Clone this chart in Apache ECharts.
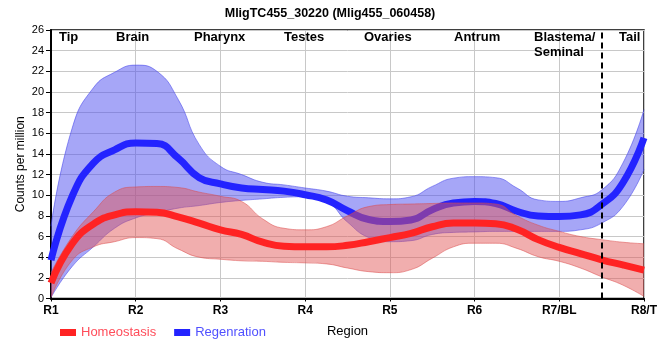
<!DOCTYPE html>
<html>
<head>
<meta charset="utf-8">
<script src="https://cdn.jsdelivr.net/npm/echarts@6/dist/echarts.min.js"></script>
<style>
html,body{margin:0;padding:0;background:#fff;}
#chart{width:660px;height:360px;}
</style>
</head>
<body>
<div id="chart"></div>
<script>
// ---- data ----
var titleText = 'MligTC455_30220 (Mlig455_060458)';
var xTickLabels = ['R1', 'R2', 'R3', 'R4', 'R5', 'R6', 'R7/BL', 'R8/T'];
var regionNames = ['Tip', 'Brain', 'Pharynx', 'Testes', 'Ovaries', 'Antrum', 'Blastema/', 'Seminal', 'Tail'];
var dashedX = 7.5;
var xValues = [1, 1.25, 1.5, 1.75, 2, 2.25, 2.5, 2.75, 3, 3.25, 3.5, 3.75, 4, 4.25, 4.5, 4.75,
               5, 5.25, 5.5, 5.75, 6, 6.25, 6.5, 6.75, 7, 7.25, 7.5, 7.75, 8];
var homeoMean  = [1.5, 5.3, 7.2, 8.1, 8.4, 8.35, 7.9, 7.3, 6.65, 6.2, 5.45, 5.05, 5.0, 5.0, 5.15, 5.5,
                  5.9, 6.3, 6.95, 7.3, 7.3, 7.25, 6.7, 5.7, 4.95, 4.35, 3.75, 3.25, 2.75];
var homeoUpper = [2.5, 6.0, 8.4, 10.3, 10.8, 10.85, 10.75, 10.3, 9.9, 9.4, 7.7, 6.8, 6.65, 6.95, 8.0, 8.9,
                  9.1, 9.15, 9.2, 9.25, 9.25, 9.15, 8.0, 7.1, 6.5, 6.0, 5.7, 5.45, 5.3];
var homeoLower = [0.1, 3.7, 5.0, 5.5, 5.9, 5.8, 4.8, 4.0, 3.8, 3.65, 3.6, 3.5, 3.45, 3.35, 2.95, 2.6,
                  2.5, 2.8, 3.9, 5.0, 5.35, 5.35, 4.85, 4.05, 3.6, 2.95, 2.1, 1.3, 0.2];
var regenMean  = [3.7, 9.9, 13.1, 14.4, 15.05, 15.0, 13.6, 11.7, 11.1, 10.7, 10.55, 10.4, 10.05, 9.55, 8.5, 7.65,
                  7.45, 7.6, 8.6, 9.25, 9.4, 9.2, 8.45, 8.0, 7.95, 8.1, 9.1, 11.2, 15.55];
var regenUpper = [7.0, 16.5, 20.4, 21.9, 22.6, 22.0, 19.3, 14.9, 12.8, 12.0, 11.25, 11.0, 10.7, 10.4, 9.9, 9.75,
                  9.65, 9.85, 10.85, 11.65, 11.8, 11.7, 10.7, 9.55, 9.4, 9.75, 10.5, 13.1, 18.3];
var regenLower = [0.1, 3.1, 5.0, 6.8, 7.8, 8.3, 8.75, 9.0, 9.3, 9.5, 9.65, 9.8, 9.85, 9.4, 7.4, 5.9,
                  5.5, 5.6, 6.2, 6.4, 6.45, 6.5, 6.5, 6.5, 6.5, 6.65, 7.3, 8.9, 12.5];

// ---- build ----
function diffs(up, lo) { return up.map(function (u, i) { return +(u - lo[i]).toFixed(3); }); }
var categories = xValues.map(String);
var step = 4; // categories per region

var FONT = '"Liberation Sans", Arial, sans-serif';
var chart = echarts.init(document.getElementById('chart'), null, { renderer: 'canvas' });

var regionPos = [59, 116, 194, 284, 364, 454, 534, 534, 619];
var regionY   = [39, 39, 39, 39, 39, 39, 39, 54, 39];
var graphics = regionNames.map(function (n, i) {
  return {
    type: 'text', left: regionPos[i], top: regionY[i] - 8, z: 100,
    style: { text: n, font: 'bold 13px ' + FONT, fill: '#000' }
  };
});

var bandBlueFill = 'rgba(77,77,239,0.5)';
var bandBlueEdge = 'rgba(70,70,235,0.55)';
var bandRedFill = 'rgba(225,85,85,0.48)';
var bandRedEdge = 'rgba(220,70,70,0.5)';

var option = {
  backgroundColor: '#fff',
  animation: false,
  title: {
    text: titleText, left: 'center', top: 2,
    textStyle: { fontFamily: FONT, fontWeight: 'bold', fontSize: 12.5, color: '#000' }
  },
  grid: { left: 51, right: 10, top: 30, height: 268.5, show: true, borderColor: '#000', borderWidth: 1.5, backgroundColor: 'transparent' },
  legend: {
    left: 55, top: 321, icon: 'rect', itemWidth: 16, itemHeight: 7, itemGap: 18,
    textStyle: { fontFamily: FONT, fontSize: 13 },
    data: [
      { name: 'Homeostasis', textStyle: { color: '#ff4d5a' } },
      { name: 'Regenration', textStyle: { color: '#5050ff' } }
    ]
  },
  xAxis: {
    type: 'category', data: categories, boundaryGap: false,
    name: 'Region', nameLocation: 'middle', nameGap: 26, nameMoveOverlap: false,
    nameTextStyle: { fontFamily: FONT, fontSize: 13, color: '#000' },
    axisLine: { lineStyle: { color: '#000', width: 2 } },
    axisTick: { show: true, length: 3, interval: step - 1, lineStyle: { color: '#000' } },
    axisLabel: {
      margin: 6, interval: step - 1, fontFamily: FONT, fontSize: 12, fontWeight: 'bold', color: '#000',
      formatter: function (v, idx) { return idx % step === 0 ? xTickLabels[idx / step] : ''; }
    },
    splitLine: { show: true, interval: step - 1, lineStyle: { color: '#c8c8c8', width: 1 } }
  },
  yAxis: {
    type: 'value', min: 0, max: 26, interval: 2,
    name: 'Counts per million', nameLocation: 'middle', nameGap: 24, nameRotate: 90, nameMoveOverlap: false,
    nameTextStyle: { fontFamily: FONT, fontSize: 12, color: '#000' },
    axisLine: { show: true, lineStyle: { color: '#000', width: 2 } },
    axisTick: { show: true, length: 5, lineStyle: { color: '#000' } },
    axisLabel: { margin: 7, fontFamily: FONT, fontSize: 11, color: '#000' },
    splitLine: { show: true, lineStyle: { color: '#c8c8c8', width: 1 } }
  },
  graphic: graphics,
  series: [
    { name: 'regenLo', type: 'line', stack: 'regen', data: regenLower, smooth: 0.5, showSymbol: false, z: 1,
      lineStyle: { color: bandBlueEdge, width: 1 }, itemStyle: { color: bandBlueEdge }, silent: true },
    { name: 'regenBand', type: 'line', stack: 'regen', data: diffs(regenUpper, regenLower), smooth: 0.5, showSymbol: false, z: 1,
      lineStyle: { color: bandBlueEdge, width: 1 }, areaStyle: { color: bandBlueFill, opacity: 1 }, itemStyle: { color: bandBlueEdge }, silent: true },
    { name: 'Regenration', type: 'line', data: regenMean, smooth: 0.5, showSymbol: false, z: 2,
      lineStyle: { color: '#2323ff', width: 7 }, itemStyle: { color: '#2323ff' } },
    { name: 'homeoLo', type: 'line', stack: 'homeo', data: homeoLower, smooth: 0.5, showSymbol: false, z: 3,
      lineStyle: { color: bandRedEdge, width: 1 }, itemStyle: { color: bandRedEdge }, silent: true },
    { name: 'homeoBand', type: 'line', stack: 'homeo', data: diffs(homeoUpper, homeoLower), smooth: 0.5, showSymbol: false, z: 3,
      lineStyle: { color: bandRedEdge, width: 1 }, areaStyle: { color: bandRedFill, opacity: 1 }, itemStyle: { color: bandRedEdge }, silent: true },
    { name: 'Homeostasis', type: 'line', data: homeoMean, smooth: 0.5, showSymbol: false, z: 4,
      lineStyle: { color: '#ff2323', width: 7 }, itemStyle: { color: '#ff2323' },
      markLine: {
        silent: true, symbol: 'none', label: { show: false },
        lineStyle: { color: '#000', type: [6, 4], width: 2 },
        data: [{ xAxis: String(dashedX) }]
      }
    }
  ]
};
chart.setOption(option);
</script>
</body>
</html>
